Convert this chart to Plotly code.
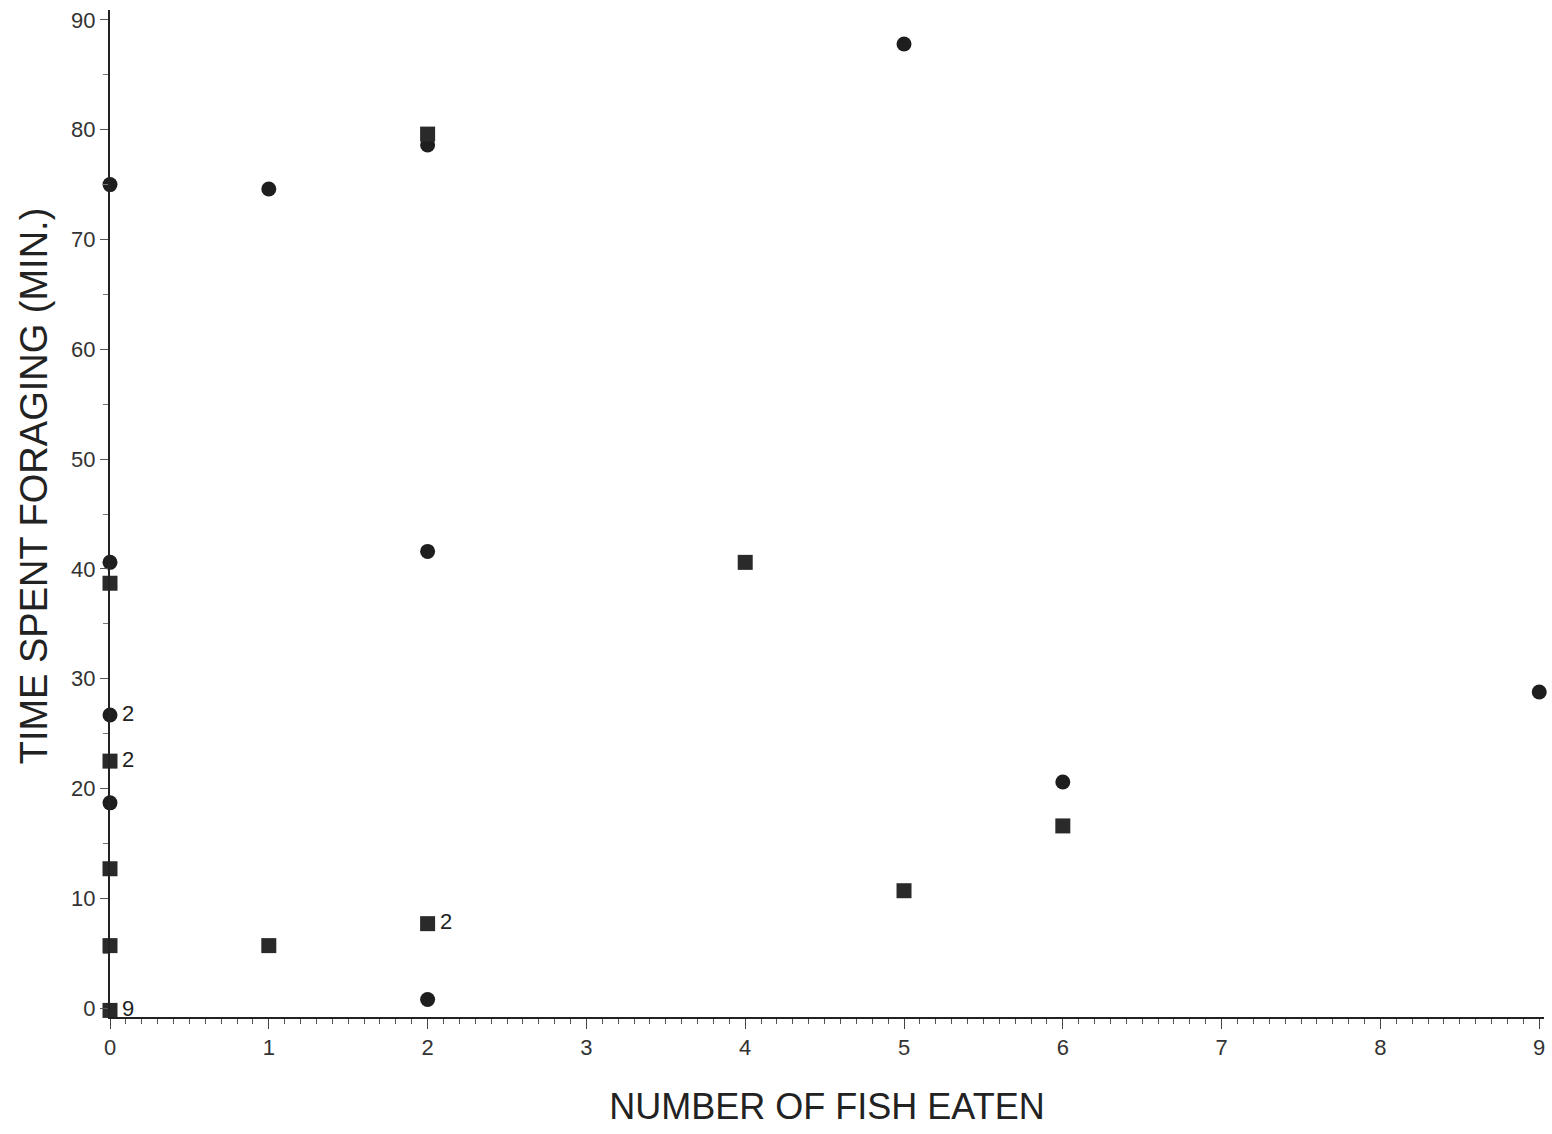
import plotly.graph_objects as go

# Foraging observations: number of fish eaten vs. time spent foraging (min.)
circle_fish = [0, 1, 2, 5, 0, 2, 0, 0, 2, 9, 6]
circle_time = [75.0, 74.6, 78.6, 87.8, 40.6, 41.6, 26.7, 18.7, 0.8, 28.8, 20.6]

square_fish = [2, 0, 4, 0, 0, 0, 1, 2, 5, 6, 0]
square_time = [79.6, 38.7, 40.6, 22.5, 12.7, 5.7, 5.7, 7.7, 10.7, 16.6, -0.2]

# Counts of overlapping observations
count_fish = [0, 0, 2, 0]
count_time = [26.7, 22.5, 7.7, -0.2]
count_text = ["2", "2", "2", "9"]

x_title = "NUMBER OF FISH EATEN"
y_title = "TIME SPENT FORAGING (MIN.)"

ink = "#1e1e1e"
font_family = "Liberation Sans, Arial, Helvetica, sans-serif"

fig = go.Figure()
fig.add_trace(go.Scatter(
    x=circle_fish, y=circle_time, mode="markers",
    marker=dict(symbol="circle", size=15, color=ink),
    cliponaxis=False, showlegend=False,
))
fig.add_trace(go.Scatter(
    x=square_fish, y=square_time, mode="markers",
    marker=dict(symbol="square", size=15, color="#2a2a2a"),
    cliponaxis=False, showlegend=False,
))

for fx, ty, txt in zip(count_fish, count_time, count_text):
    fig.add_annotation(
        x=fx, y=ty, text=txt, showarrow=False,
        xanchor="left", yanchor="middle", xshift=10, yshift=2,
        font=dict(family=font_family, size=22, color="#222"),
    )

# Vertical axis title, set a little above the plot's centre
fig.add_annotation(
    xref="paper", yref="paper", x=0, y=0.527, xshift=-76,
    text=y_title, textangle=-90, showarrow=False,
    xanchor="center", yanchor="middle",
    font=dict(family=font_family, size=38, color="#222"),
)

fig.update_layout(
    width=1552, height=1134,
    margin=dict(l=110, r=8, t=10, b=117),
    paper_bgcolor="white", plot_bgcolor="white",
    font=dict(family=font_family, color="#222"),
    xaxis=dict(
        range=[0, 9.03], tickmode="array", tickvals=list(range(10)),
        ticks="outside", ticklen=10, tickwidth=1, tickcolor="#444",
        minor=dict(dtick=0.1, ticks="outside", ticklen=5, tickwidth=1, tickcolor="#555"),
        showline=True, linecolor="#222", linewidth=2,
        showgrid=False, zeroline=False,
        tickfont=dict(size=22, color="#333"),
        title=dict(text=x_title, font=dict(size=36, color="#222"), standoff=34),
    ),
    yaxis=dict(
        range=[-0.8, 90.9], tickmode="array", tickvals=list(range(0, 91, 10)),
        ticks="outside", ticklen=8, tickwidth=1, tickcolor="#555",
        minor=dict(dtick=5, ticks="outside", ticklen=5, tickwidth=1, tickcolor="#777"),
        showline=True, linecolor="#222", linewidth=2,
        showgrid=False, zeroline=False,
        tickfont=dict(size=22, color="#333"),
    ),
)

fig.write_html("out.html")
